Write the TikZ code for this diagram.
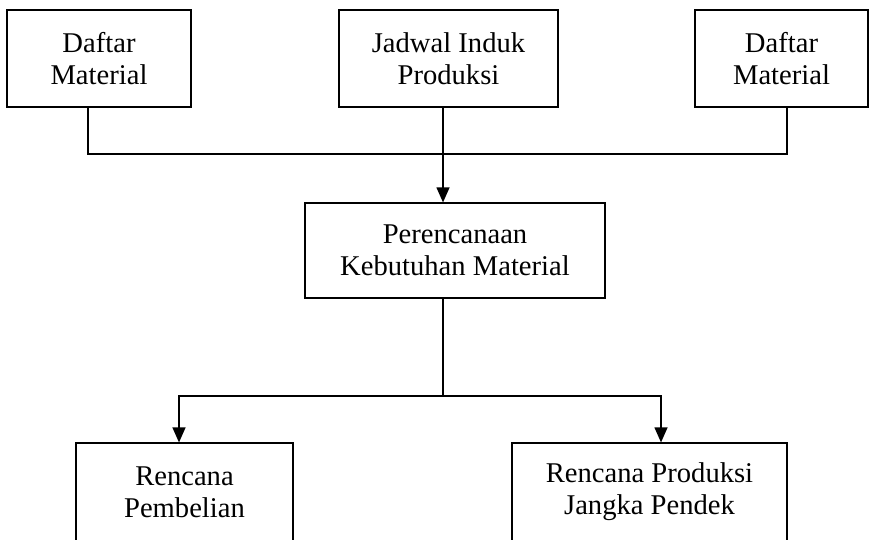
\documentclass[tikz,border=0pt]{standalone}
\usepackage{fontspec}
\setmainfont{Liberation Serif}
\usetikzlibrary{arrows.meta, positioning}

\tikzset{
    box/.style={draw, line width=1.2pt, align=center, inner sep=0pt,
        font=\fontsize{28.6}{32}\selectfont},
}

\begin{document}
\begin{tikzpicture}[x=1pt, y=-1pt, line width=1.2pt, >={Triangle[length=15pt, width=13pt]}]
    \useasboundingbox (0,0) rectangle (869,539);

    \node[box, minimum width=184pt, minimum height=97pt] (dm1) at (99,58.5) {Daftar\\Material};
    \node[box, minimum width=219pt, minimum height=97pt] (jip) at (448.5,58.5) {Jadwal Induk\\Produksi};
    \node[box, minimum width=173pt, minimum height=97pt] (dm2) at (781.5,58.5) {Daftar\\Material};
    \node[box, minimum width=300pt, minimum height=95pt] (mrp) at (455,250.5) {Perencanaan\\Kebutuhan Material};
    \node[box, minimum width=217pt, minimum height=98pt] (rp) at (184.5,492) {Rencana\\Pembelian};
    \node[box, minimum width=275pt, minimum height=98pt] (rpj) at (649.5,492) {Rencana Produksi\\Jangka Pendek};

    \coordinate (join) at (443,154);
    \coordinate (split) at (443,396);

    \draw ([xshift=-11pt]dm1.south) |- (join) -| ([xshift=5.5pt]dm2.south);
    \draw[->] (jip.south -| join) -- (mrp.north -| join);
    \draw (mrp.south -| split) -- (split);
    \draw[->] (split) -| ([xshift=-5.5pt]rp.north);
    \draw[->] (split) -| ([xshift=11.5pt]rpj.north);
\end{tikzpicture}
\end{document}
